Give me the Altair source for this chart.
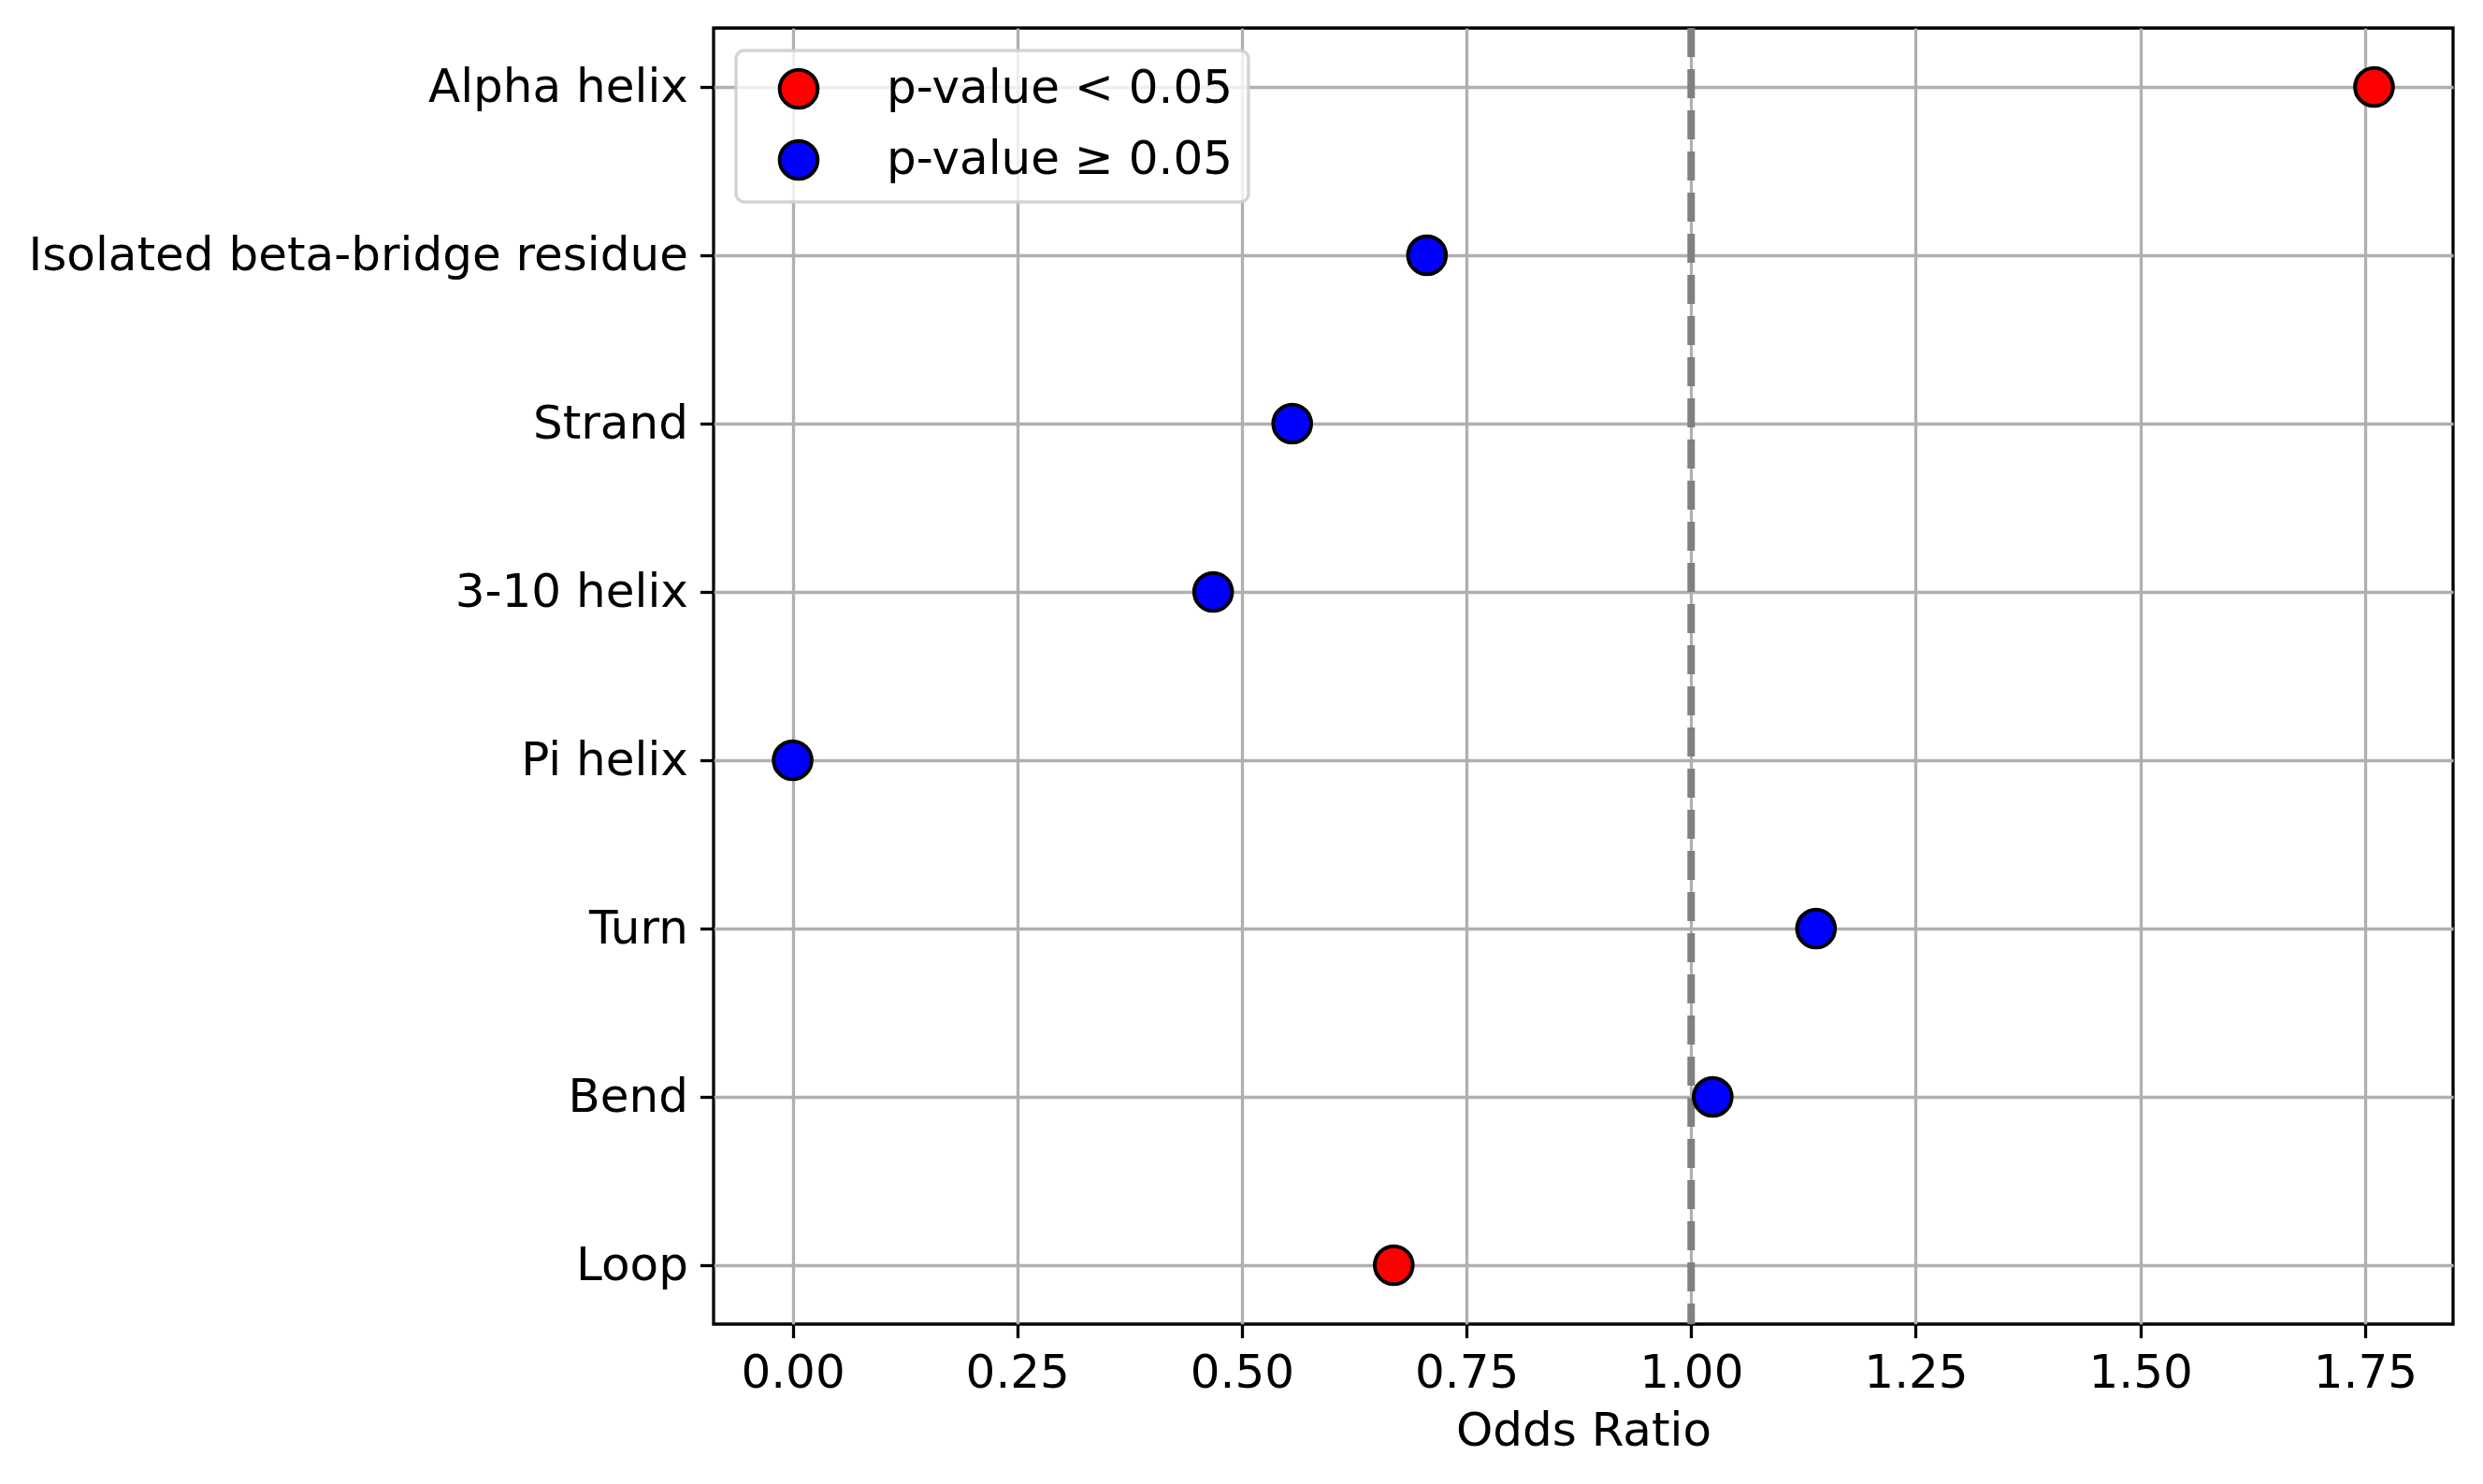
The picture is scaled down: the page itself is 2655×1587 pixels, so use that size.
import altair as alt
import pandas as pd

categories = ["Alpha helix", "Isolated beta-bridge residue", "Strand", "3-10 helix",
              "Pi helix", "Turn", "Bend", "Loop"]
odds_ratio = [1.76, 0.706, 0.556, 0.468, 0.0, 1.139, 1.024, 0.669]
significance = ["p-value < 0.05", "p-value ≥ 0.05", "p-value ≥ 0.05", "p-value ≥ 0.05",
                "p-value ≥ 0.05", "p-value ≥ 0.05", "p-value ≥ 0.05", "p-value < 0.05"]
legend_labels = ["p-value < 0.05", "p-value ≥ 0.05"]
legend_colors = ["#ff0000", "#0000ff"]
x_ticks = [0.0, 0.25, 0.5, 0.75, 1.0, 1.25, 1.5, 1.75]
ref_value = [1.0]

df = pd.DataFrame({"category": categories, "odds": odds_ratio, "sig": significance})
ref = pd.DataFrame({"ref": ref_value})

FONT = "DejaVu Sans"
FS = 50
MS = 1650

x_scale = alt.Scale(domain=[-0.088, 1.848], nice=False, zero=False)

rule = alt.Chart(ref).mark_rule(color="#808080", strokeWidth=8, strokeDash=[31, 13]).encode(
    x=alt.X("ref:Q", scale=x_scale)
)

points = alt.Chart(df).mark_circle(size=MS, opacity=1, stroke="black", strokeWidth=4).encode(
    x=alt.X("odds:Q", scale=x_scale, title="Odds Ratio",
            axis=alt.Axis(values=x_ticks, format=".2f", grid=True)),
    y=alt.Y("category:N", sort=categories, title=None,
            scale=alt.Scale(type="point", padding=0.35),
            axis=alt.Axis(grid=True)),
    color=alt.Color("sig:N", scale=alt.Scale(domain=legend_labels, range=legend_colors),
                    legend=alt.Legend(title=None, orient="top-left", offset=24)),
)

chart = alt.layer(rule, points).properties(
    width=1860, height=1386,
    padding={"left": 22, "top": 18, "right": 10, "bottom": 10},
).configure_view(
    stroke="black", strokeWidth=3.3
).configure_axis(
    labelFont=FONT, labelFontSize=FS, labelColor="black", labelLimit=0,
    titleFont=FONT, titleFontSize=FS, titleColor="black", titleFontWeight="normal",
    gridColor="#b0b0b0", gridWidth=3.3, gridOpacity=1,
    tickColor="black", tickWidth=3.3, tickSize=14.6,
    domain=False, labelPadding=13, zindex=1,
).configure_axisX(
    titlePadding=12
).configure_legend(
    symbolType="circle", symbolSize=MS,
    symbolStrokeColor="black", symbolStrokeWidth=4, symbolOpacity=1,
    labelFontSize=FS, labelFont=FONT, labelColor="black", labelLimit=0,
    labelOffset=69, symbolOffset=26, rowPadding=18,
    padding=16, cornerRadius=9,
    fillColor="rgba(255,255,255,0.8)",
    strokeColor="rgba(204,204,204,0.85)",
    strokeWidth=3.5, zindex=2,
)

chart.save("out.html", embed_options={"renderer": "svg", "actions": False})
